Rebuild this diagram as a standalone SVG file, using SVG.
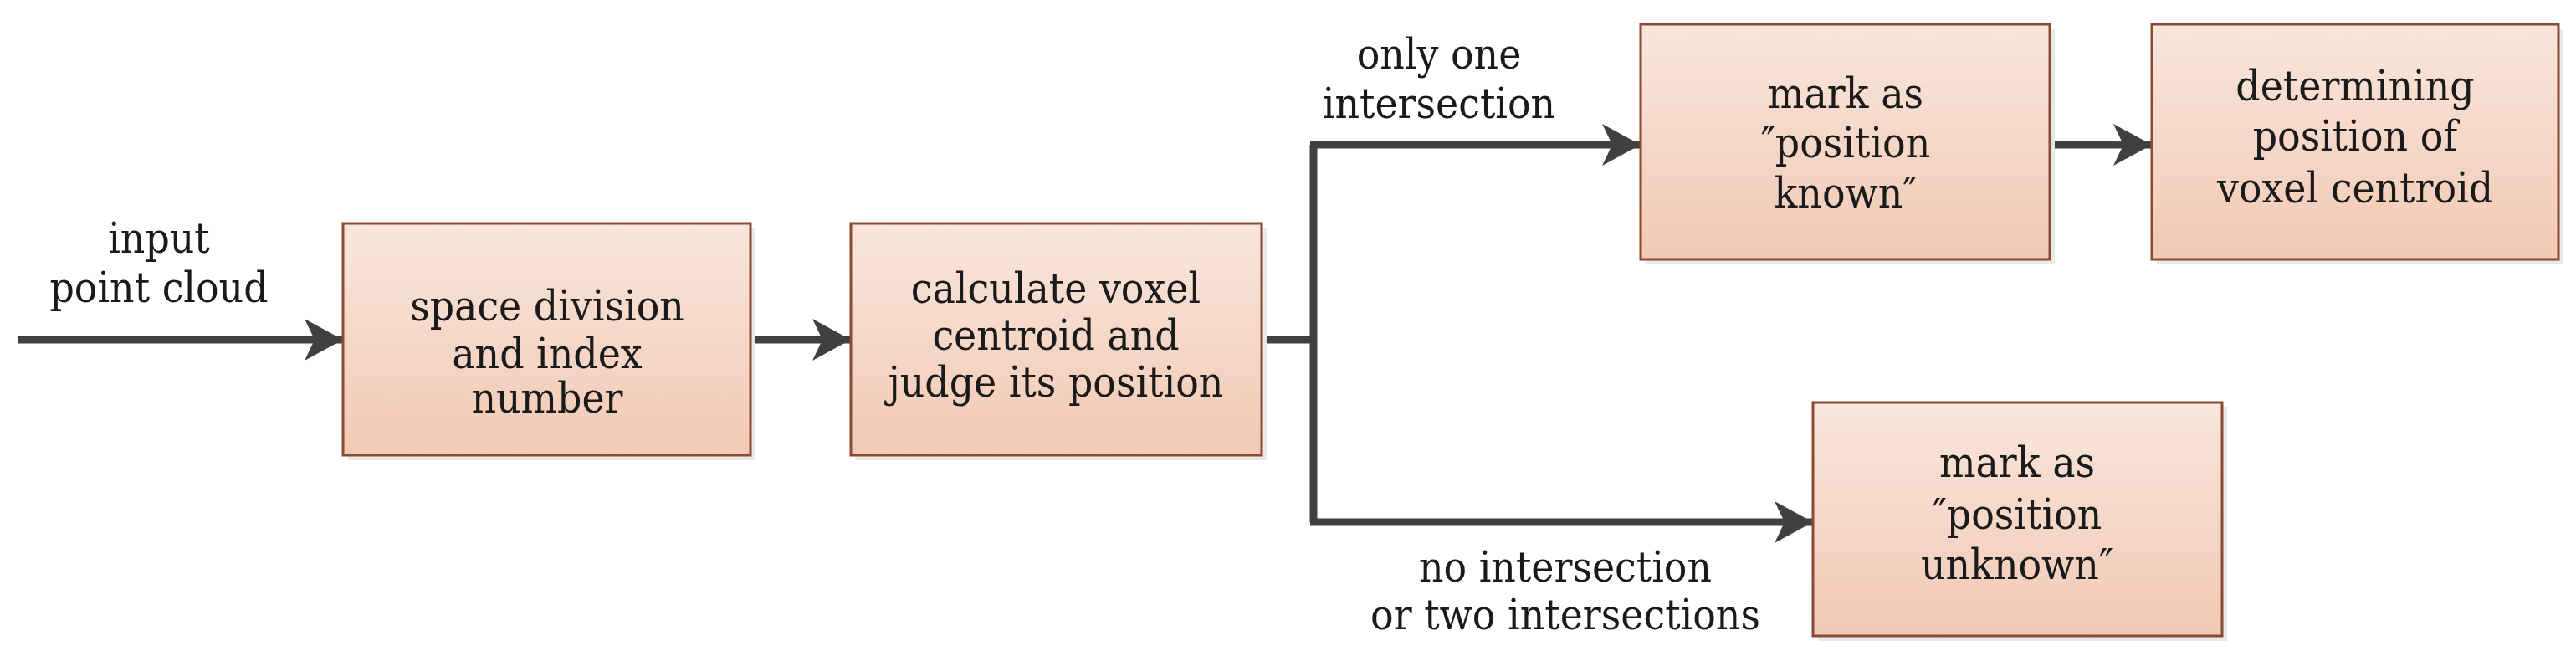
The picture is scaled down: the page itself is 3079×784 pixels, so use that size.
<svg xmlns="http://www.w3.org/2000/svg" width="3079" height="784" viewBox="0 0 3079 784">
<defs>
<linearGradient id="g" x1="0" y1="0" x2="0" y2="1"><stop offset="0" stop-color="#f9e6dc"/><stop offset="1" stop-color="#f2c9b4"/></linearGradient>
<marker id="ah" markerUnits="userSpaceOnUse" markerWidth="46" markerHeight="50" refX="46" refY="25" orient="auto"><path d="M0,0 L46,25 L0,50 L12,25 Z" fill="#404040"/></marker>
<style>
.b{fill:url(#g);stroke:#8a4b33;stroke-width:3}
.s{fill:#e8e8e8}
.t{font-family:"DejaVu Serif Condensed","DejaVu Serif","Liberation Serif",serif;font-stretch:condensed;font-size:51px;fill:#1a1a1a;text-anchor:middle}
.c{fill:none;stroke:#404040;stroke-width:9}
</style>
</defs>
<g id="connectors">
<line class="c" x1="22" y1="406" x2="410" y2="406" marker-end="url(#ah)"/>
<line class="c" x1="897" y1="406" x2="1017" y2="406" marker-end="url(#ah)"/>
<polyline class="c" points="1508,406 1570,406"/>
<polyline class="c" points="1570,173 1570,624"/>
<line class="c" x1="1566" y1="173" x2="1961" y2="173" marker-end="url(#ah)"/>
<line class="c" x1="1566" y1="624" x2="2167" y2="624" marker-end="url(#ah)"/>
<line class="c" x1="2450" y1="173" x2="2572" y2="173" marker-end="url(#ah)"/>
<text class="t" x="190" y="302">input</text>
<text class="t" x="190" y="361">point cloud</text>
<text class="t" x="1720" y="82">only one</text>
<text class="t" x="1720" y="141">intersection</text>
<text class="t" x="1871" y="695">no intersection</text>
<text class="t" x="1871" y="752">or two intersections</text>
</g>
<g id="n1"><rect class="s" x="416" y="273" width="487" height="277"/><rect class="b" x="410" y="267" width="487" height="277"/>
<text class="t" x="654" y="383">space division</text><text class="t" x="654" y="440">and index</text><text class="t" x="654" y="493">number</text></g>
<g id="n2"><rect class="s" x="1023" y="273" width="491" height="277"/><rect class="b" x="1017" y="267" width="491" height="277"/>
<text class="t" x="1262" y="362">calculate voxel</text><text class="t" x="1262" y="418">centroid and</text><text class="t" x="1262" y="474">judge its position</text></g>
<g id="n3"><rect class="s" x="1967" y="35" width="489" height="281"/><rect class="b" x="1961" y="29" width="489" height="281"/>
<text class="t" x="2206" y="129">mark as</text><text class="t" x="2206" y="188">″position</text><text class="t" x="2206" y="248">known″</text></g>
<g id="n4"><rect class="s" x="2578" y="35" width="486" height="281"/><rect class="b" x="2572" y="29" width="486" height="281"/>
<text class="t" x="2815" y="120">determining</text><text class="t" x="2815" y="180">position of</text><text class="t" x="2815" y="242">voxel centroid</text></g>
<g id="n5"><rect class="s" x="2173" y="487" width="489" height="279"/><rect class="b" x="2167" y="481" width="489" height="279"/>
<text class="t" x="2411" y="570">mark as</text><text class="t" x="2411" y="632">″position</text><text class="t" x="2411" y="692">unknown″</text></g>
</svg>
